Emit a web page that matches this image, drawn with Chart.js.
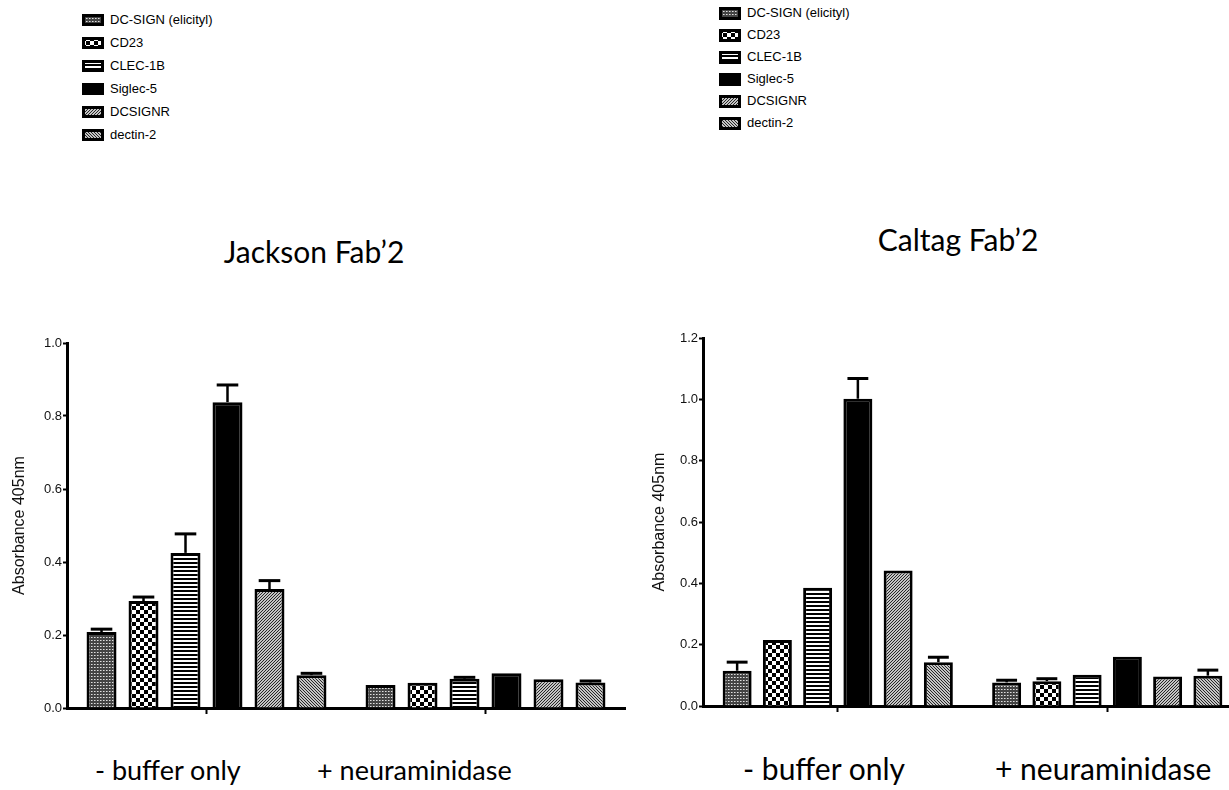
<!DOCTYPE html>
<html>
<head>
<meta charset="utf-8">
<script src="https://cdn.jsdelivr.net/npm/chart.js@4"></script>
<style>
  html, body { margin: 0; padding: 0; background: #fff; overflow: hidden; }
  body { width: 1229px; height: 790px; position: relative; }
  canvas.chart { position: absolute; }
  .txt { position: absolute; white-space: nowrap; line-height: 1; color: #000; font-family: Lato, "Open Sans", sans-serif; }
  .legend { position: absolute; font-family: "Liberation Sans", Arial, sans-serif; font-size: 13px; color: #000; }
  .legend .row { position: absolute; left: 0; white-space: nowrap; height: 14px; }
  .legend canvas { position: absolute; left: 0; top: 0; }
  .legend span { position: absolute; top: 0; line-height: 14px; }
</style>
</head>
<body>

<div class="legend" id="legendJackson" style="left:82px; top:13px;"></div>
<div class="legend" id="legendCaltag" style="left:719px; top:6px;"></div>

<div class="txt" style="left:314px; top:236px; font-size:30px; transform:translateX(-50%);">Jackson Fab’2</div>
<div class="txt" style="left:958px; top:224px; font-size:30px; transform:translateX(-50%);">Caltag Fab’2</div>

<div class="txt" style="left:95px; top:756px; font-size:27px;">- buffer only</div>
<div class="txt" style="left:317px; top:756px; font-size:27px;">+ neuraminidase</div>
<div class="txt" style="left:743px; top:753px; font-size:30px;">- buffer only</div>
<div class="txt" style="left:995px; top:753px; font-size:30px;">+ neuraminidase</div>

<canvas class="chart" id="jackson" width="630" height="400" style="left:0px; top:330px;"></canvas>
<canvas class="chart" id="caltag" width="607" height="405" style="left:640px; top:325px;"></canvas>

<script>
// categories
const receptors = ["DC-SIGN (elicityl)", "CD23", "CLEC-1B", "Siglec-5", "DCSIGNR", "dectin-2"];
const groups = ["- buffer only", "+ neuraminidase"];

// Jackson Fab'2 (absorbance 405nm), one value per receptor
const jacksonBuffer = [0.208, 0.293, 0.425, 0.838, 0.326, 0.090];
const jacksonBufferErr = [0.008, 0.011, 0.052, 0.047, 0.023, 0.005];
const jacksonNeur = [0.063, 0.069, 0.080, 0.095, 0.079, 0.070];
const jacksonNeurErr = [0.002, 0.002, 0.004, 0.002, 0.002, 0.004];

// Caltag Fab'2
const caltagBuffer = [0.115, 0.215, 0.386, 1.002, 0.442, 0.143];
const caltagBufferErr = [0.028, 0.003, 0.003, 0.066, 0.003, 0.016];
const caltagNeur = [0.077, 0.081, 0.102, 0.161, 0.096, 0.099];
const caltagNeurErr = [0.007, 0.008, 0.003, 0.003, 0.003, 0.018];

// fill patterns, one per receptor
function makePattern(kind) {
  const t = document.createElement("canvas");
  const c = t.getContext("2d");
  if (kind === "grid") {
    t.width = 3; t.height = 3;
    c.fillStyle = "#444"; c.fillRect(0, 0, 3, 3);
    c.fillStyle = "#e0e0e0"; c.fillRect(1, 1, 1, 1);
    c.fillStyle = "#9a9a9a"; c.fillRect(2, 1, 1, 1);
  } else if (kind === "checker") {
    t.width = 8; t.height = 8;
    c.fillStyle = "#fff"; c.fillRect(0, 0, 8, 8);
    c.fillStyle = "#000"; c.fillRect(0, 0, 4, 4); c.fillRect(4, 4, 4, 4);
  } else if (kind === "hlines") {
    t.width = 4; t.height = 4;
    c.fillStyle = "#fff"; c.fillRect(0, 0, 4, 4);
    c.fillStyle = "#000"; c.fillRect(0, 0, 4, 2);
  } else if (kind === "solid") {
    return "#000";
  } else if (kind === "fwd" || kind === "back") {
    t.width = 3; t.height = 3;
    c.fillStyle = "#c4c4c4"; c.fillRect(0, 0, 3, 3);
    c.fillStyle = "#262626";
    for (let i = 0; i < 3; i++) {
      const x = kind === "fwd" ? 2 - i : i;
      c.fillRect(x, i, 1, 1);
    }
  }
  return c.createPattern(t, "repeat");
}
const patternKinds = ["grid", "checker", "hlines", "solid", "fwd", "back"];
const fills = patternKinds.map(makePattern);

// error bars drawn above each bar, through the y scale
const errorBars = {
  id: "errorBars",
  afterDatasetsDraw(chart) {
    const ctx = chart.ctx;
    const y = chart.scales.y;
    chart.data.datasets.forEach((ds, di) => {
      const meta = chart.getDatasetMeta(di);
      meta.data.forEach((bar, i) => {
        const err = ds.errors[i];
        const top = y.getPixelForValue(ds.data[i] + err);
        if (bar.y - top < 1) return;
        const half = bar.width * 0.36;
        ctx.save();
        ctx.strokeStyle = "#000";
        ctx.lineWidth = 2.5;
        ctx.beginPath();
        ctx.moveTo(bar.x, bar.y);
        ctx.lineTo(bar.x, top);
        ctx.stroke();
        ctx.lineWidth = 3;
        ctx.beginPath();
        ctx.moveTo(bar.x - half, top);
        ctx.lineTo(bar.x + half, top);
        ctx.stroke();
        ctx.restore();
      });
    });
  }
};

function buildChart(id, buffer, bufferErr, neur, neurErr, yMax, yWidth, xHeight, padTop, catPct, barPct) {
  const datasets = receptors.map((name, i) => ({
    label: name,
    data: [buffer[i], neur[i]],
    errors: [bufferErr[i], neurErr[i]],
    backgroundColor: fills[i],
    borderColor: "#000",
    borderWidth: 3,
    borderSkipped: "bottom",
    categoryPercentage: catPct,
    barPercentage: barPct
  }));
  return new Chart(document.getElementById(id), {
    type: "bar",
    data: { labels: groups, datasets: datasets },
    plugins: [errorBars],
    options: {
      responsive: false,
      animation: false,
      layout: { padding: { top: padTop, right: 5, left: 0, bottom: 0 } },
      plugins: { legend: { display: false }, tooltip: { enabled: false } },
      scales: {
        x: {
          offset: true,
          grid: { offset: false, drawOnChartArea: false, drawTicks: true, tickLength: 6, tickWidth: 2, color: "#000" },
          border: { display: true, color: "#000", width: 3 },
          ticks: { display: false },
          afterFit: (s) => { s.height = xHeight; }
        },
        y: {
          min: 0,
          max: yMax,
          grid: { drawOnChartArea: false, drawTicks: true, tickLength: 4, tickWidth: 2, color: "#000" },
          border: { display: true, color: "#000", width: 3 },
          ticks: {
            stepSize: 0.2,
            padding: 1,
            color: "#111",
            font: { family: "'Liberation Sans', Arial, sans-serif", size: 13 },
            callback: (v) => v.toFixed(1)
          },
          title: {
            display: true,
            text: "Absorbance 405nm",
            color: "#111",
            font: { family: "'Liberation Sans', Arial, sans-serif", size: 16 },
            padding: { top: 10, bottom: 0 }
          },
          afterFit: (s) => { s.width = yWidth; }
        }
      }
    }
  });
}

buildChart("jackson", jacksonBuffer, jacksonBufferErr, jacksonNeur, jacksonNeurErr, 1.0, 67, 22, 13, 0.903, 0.714);
buildChart("caltag", caltagBuffer, caltagBufferErr, caltagNeur, caltagNeurErr, 1.2, 63, 24, 13, 0.896, 0.72);

// HTML legends with the same pattern swatches
function buildLegend(id, rowGap, boxH) {
  const el = document.getElementById(id);
  receptors.forEach((name, i) => {
    const row = document.createElement("div");
    row.className = "row";
    row.style.top = (i * rowGap) + "px";
    const sw = document.createElement("canvas");
    sw.width = 22; sw.height = boxH;
    sw.style.top = ((14 - boxH) / 2) + "px";
    const c = sw.getContext("2d");
    c.fillStyle = fills[i];
    c.fillRect(0, 0, 22, boxH);
    c.strokeStyle = "#000";
    c.lineWidth = 3;
    c.strokeRect(1.5, 1.5, 19, boxH - 3);
    const label = document.createElement("span");
    label.style.left = "28px";
    label.textContent = name;
    row.appendChild(sw);
    row.appendChild(label);
    el.appendChild(row);
  });
}
buildLegend("legendJackson", 23, 12);
buildLegend("legendCaltag", 22, 13);
</script>
</body>
</html>
